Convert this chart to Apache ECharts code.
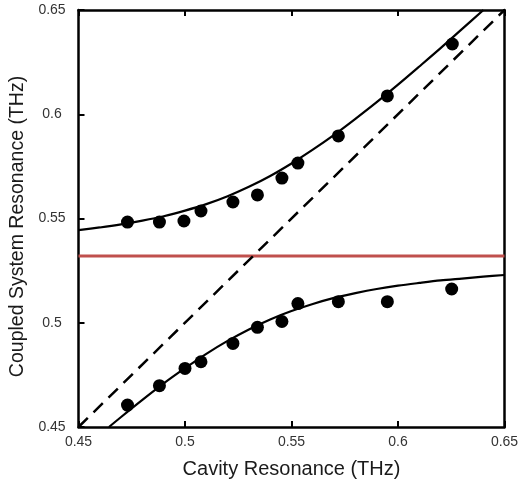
<!DOCTYPE html>
<html>
<head>
<meta charset="utf-8">
<script src="https://cdn.jsdelivr.net/npm/echarts@6/dist/echarts.min.js"></script>
<style>
html,body{margin:0;padding:0;background:#fff;}
#chart{width:520px;height:488px;}
</style>
</head>
<body>
<div id="chart"></div>
<script>
// Measured data points (THz)
const upperX = [0.473, 0.488, 0.4995, 0.5075, 0.5225, 0.534, 0.5455, 0.553, 0.572, 0.595, 0.6255];
const upperY = [0.5483, 0.5483, 0.5488, 0.5536, 0.5579, 0.5613, 0.5694, 0.5766, 0.5896, 0.6088, 0.6337];
const lowerX = [0.473, 0.488, 0.500, 0.5075, 0.5225, 0.534, 0.5455, 0.553, 0.572, 0.595, 0.6252];
const lowerY = [0.4605, 0.4698, 0.4781, 0.4813, 0.4901, 0.4978, 0.5006, 0.5092, 0.5101, 0.5101, 0.5162];

// Fitted curves
const fitUpperX = [0.45, 0.46, 0.47, 0.48, 0.49, 0.50, 0.51, 0.52, 0.53, 0.54, 0.55, 0.56, 0.57, 0.58, 0.59, 0.60, 0.61, 0.62, 0.63, 0.6401];
const fitUpperY = [0.5444, 0.5457, 0.5472, 0.5490, 0.5511, 0.5538, 0.5569, 0.5607, 0.5652, 0.5704, 0.5764, 0.5830, 0.5901, 0.5978, 0.6058, 0.6142, 0.6229, 0.6317, 0.6408, 0.65];
const fitLowerX = [0.4643, 0.47, 0.48, 0.49, 0.50, 0.51, 0.52, 0.53, 0.54, 0.55, 0.56, 0.57, 0.58, 0.59, 0.60, 0.61, 0.62, 0.63, 0.64, 0.65];
const fitLowerY = [0.45, 0.4548, 0.4630, 0.4709, 0.4782, 0.4851, 0.4913, 0.4968, 0.5016, 0.5056, 0.5090, 0.5119, 0.5142, 0.5162, 0.5178, 0.5191, 0.5203, 0.5212, 0.5221, 0.5229];

// Uncoupled cavity (dashed) and bare resonance (red)
const cavityX = [0.45, 0.65];
const cavityY = [0.45, 0.65];
const resonanceX = [0.45, 0.65];
const resonanceY = [0.532, 0.532];

const xTicks = [0.45, 0.5, 0.55, 0.6, 0.65];
const yTicks = [0.45, 0.5, 0.55, 0.6, 0.65];

const zip = (a, b) => a.map((v, i) => [v, b[i]]);
const fmt = v => (Math.round(v * 100) / 100).toString();

const chart = echarts.init(document.getElementById('chart'), null, {renderer: 'canvas'});
const axisLine = {show: true, lineStyle: {color: '#000', width: 2.5}};
const font = 'Liberation Sans, Arial, sans-serif';

chart.setOption({
  animation: false,
  backgroundColor: '#fff',
  grid: {left: 78.5, right: 15.5, top: 10, bottom: 61, containLabel: false, outerBoundsMode: 'none'},
  xAxis: [{
    type: 'value', position: 'bottom',
    min: xTicks[0], max: xTicks[xTicks.length - 1], interval: 0.05,
    axisLine: axisLine,
    axisTick: {show: true, inside: true, length: 6, lineStyle: {color: '#000', width: 2}},
    axisLabel: {show: true, margin: 8, fontSize: 14, color: '#333', fontFamily: font, formatter: fmt},
    splitLine: {show: false},
    name: 'Cavity Resonance (THz)', nameLocation: 'middle', nameGap: 32,
    nameTextStyle: {fontSize: 20, color: '#1a1a1a', fontFamily: font}
  }, {
    type: 'value', position: 'top',
    min: xTicks[0], max: xTicks[xTicks.length - 1], interval: 0.05,
    axisLine: axisLine,
    axisTick: {show: true, inside: true, length: 6, lineStyle: {color: '#000', width: 2}},
    axisLabel: {show: false},
    splitLine: {show: false}
  }],
  yAxis: [{
    type: 'value', position: 'left',
    min: yTicks[0], max: yTicks[yTicks.length - 1], interval: 0.05,
    axisLine: axisLine,
    axisTick: {show: true, inside: true, length: 6, lineStyle: {color: '#000', width: 2}},
    axisLabel: {show: true, margin: 26.5, align: 'center', fontSize: 14, color: '#333', fontFamily: font, formatter: fmt},
    splitLine: {show: false},
    name: 'Coupled System Resonance (THz)', nameLocation: 'middle', nameGap: 51,
    nameTextStyle: {fontSize: 19.5, color: '#1a1a1a', fontFamily: font, padding: [0, 16, 0, 0]}
  }, {
    type: 'value', position: 'right',
    min: yTicks[0], max: yTicks[yTicks.length - 1], interval: 0.05,
    axisLine: axisLine,
    axisTick: {show: false},
    axisLabel: {show: false},
    splitLine: {show: false}
  }],
  series: [
    {type: 'line', data: zip(resonanceX, resonanceY), showSymbol: false, symbol: 'none',
     lineStyle: {color: '#c0504d', width: 3}, z: 1},
    {type: 'line', data: zip(cavityX, cavityY), showSymbol: false, symbol: 'none',
     lineStyle: {color: '#000', width: 2.5, type: [13, 8]}, z: 2},
    {type: 'line', data: zip(fitUpperX, fitUpperY), showSymbol: false, symbol: 'none', smooth: 0.3,
     lineStyle: {color: '#000', width: 2.2}, z: 3},
    {type: 'line', data: zip(fitLowerX, fitLowerY), showSymbol: false, symbol: 'none', smooth: 0.3,
     lineStyle: {color: '#000', width: 2.2}, z: 3},
    {type: 'scatter', data: zip(upperX, upperY), symbol: 'circle', symbolSize: 13,
     itemStyle: {color: '#000', opacity: 1}, z: 4},
    {type: 'scatter', data: zip(lowerX, lowerY), symbol: 'circle', symbolSize: 13,
     itemStyle: {color: '#000', opacity: 1}, z: 4}
  ]
});
</script>
</body>
</html>
